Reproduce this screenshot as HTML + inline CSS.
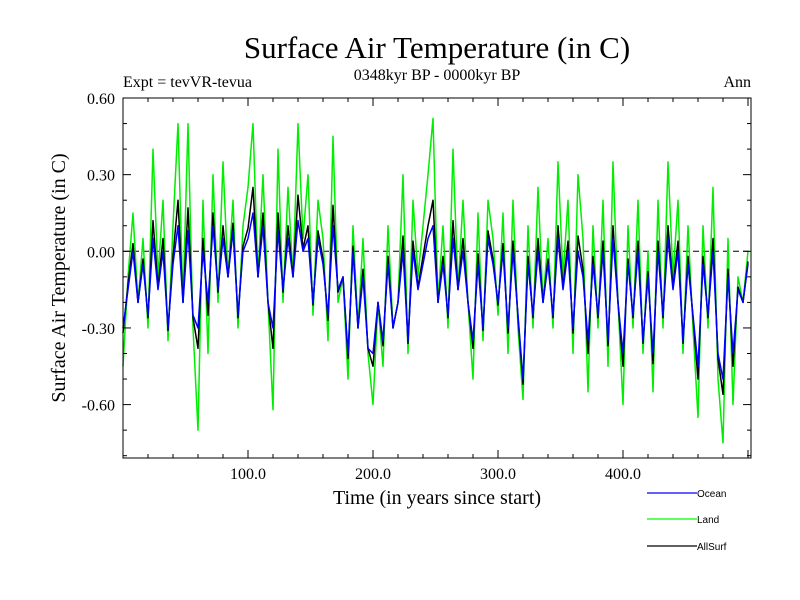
<!DOCTYPE html>
<html><head><meta charset="utf-8"><style>
body{margin:0;background:#fff}
svg{display:block}
text{font-family:"Liberation Serif",serif;fill:#000}
</style></head><body>
<svg id="chart" width="800" height="600" xmlns="http://www.w3.org/2000/svg">
<text x="437" y="58" font-size="31" text-anchor="middle">Surface Air Temperature (in C)</text>
<text x="437" y="80" font-size="16" text-anchor="middle">0348kyr BP - 0000kyr BP</text>
<text x="123" y="87" font-size="16">Expt = tevVR-tevua</text>
<text x="751" y="87" font-size="16" text-anchor="end">Ann</text>
<text transform="translate(65,278) rotate(-90)" font-size="20" text-anchor="middle">Surface Air Temperature (in C)</text>
<text x="437" y="504" font-size="20" text-anchor="middle">Time (in years since start)</text>
<g id="plot"></g>
<g>
<line x1="647" y1="493" x2="697" y2="493" stroke="#0000ff" stroke-width="1.3"/>
<text x="697" y="497" font-size="10" style="font-family:'Liberation Sans',sans-serif">Ocean</text>
<line x1="647" y1="519" x2="697" y2="519" stroke="#00ff00" stroke-width="1.3"/>
<text x="697" y="523" font-size="10" style="font-family:'Liberation Sans',sans-serif">Land</text>
<line x1="647" y1="546" x2="697" y2="546" stroke="#000" stroke-width="1.3"/>
<text x="697" y="550" font-size="10" style="font-family:'Liberation Sans',sans-serif">AllSurf</text>
</g>
</svg>
<script>
const step = 4;
const land = [-0.45,-0.1,0.15,-0.2,0.05,-0.3,0.4,-0.1,0.2,-0.35,0.1,0.5,-0.2,0.5,-0.3,-0.7,0.2,-0.4,0.3,-0.2,0.35,-0.1,0.2,-0.3,0.1,0.25,0.5,-0.1,0.3,-0.2,-0.62,0.4,-0.2,0.25,-0.1,0.5,0.05,0.3,-0.25,0.2,0.05,-0.35,0.45,-0.2,-0.1,-0.5,0.1,-0.3,0.05,-0.4,-0.6,-0.2,-0.45,0.1,-0.3,-0.2,0.3,-0.4,0.2,-0.1,0.1,0.3,0.52,-0.2,0.1,-0.3,0.4,-0.15,0.2,-0.2,-0.5,0.15,-0.35,0.2,0.05,-0.25,0.15,-0.4,0.2,-0.3,-0.58,0.1,-0.3,0.25,-0.2,0.05,-0.3,0.35,-0.1,0.2,-0.4,0.3,0.05,-0.55,0.1,-0.3,0.2,-0.45,0.35,-0.2,-0.6,0.1,-0.3,0.2,-0.4,0.0,-0.55,0.2,-0.3,0.35,-0.1,0.2,-0.4,0.1,-0.3,-0.65,0.1,-0.3,0.25,-0.5,-0.75,0.05,-0.6,-0.1,-0.2,0.0];
const ocean = [-0.3,-0.15,0.0,-0.2,-0.05,-0.25,0.05,-0.15,0.0,-0.3,-0.05,0.1,-0.2,0.08,-0.25,-0.3,0.0,-0.2,0.1,-0.15,0.05,-0.1,0.08,-0.25,0.0,0.05,0.15,-0.1,0.1,-0.2,-0.3,0.08,-0.15,0.05,-0.1,0.12,0.0,0.05,-0.2,0.05,-0.05,-0.25,0.1,-0.15,-0.1,-0.4,0.0,-0.3,-0.1,-0.38,-0.4,-0.2,-0.35,-0.05,-0.3,-0.2,0.0,-0.35,0.0,-0.15,-0.05,0.05,0.1,-0.2,-0.05,-0.25,0.05,-0.15,0.0,-0.2,-0.35,-0.05,-0.3,0.05,-0.05,-0.2,0.0,-0.3,0.0,-0.25,-0.5,-0.05,-0.25,0.0,-0.2,-0.05,-0.25,0.05,-0.15,0.0,-0.3,0.0,-0.1,-0.35,-0.05,-0.25,0.0,-0.35,0.05,-0.2,-0.4,-0.05,-0.25,0.0,-0.35,-0.1,-0.4,0.0,-0.25,0.05,-0.15,0.0,-0.35,-0.05,-0.25,-0.45,-0.05,-0.25,0.0,-0.4,-0.5,-0.1,-0.4,-0.15,-0.2,-0.05];
const allsurf = [-0.32,-0.13,0.03,-0.2,-0.03,-0.26,0.12,-0.14,0.05,-0.31,-0.02,0.2,-0.2,0.17,-0.26,-0.38,0.05,-0.25,0.15,-0.16,0.1,-0.1,0.11,-0.26,0.02,0.09,0.25,-0.1,0.15,-0.2,-0.38,0.15,-0.16,0.1,-0.1,0.22,0.01,0.1,-0.21,0.08,-0.03,-0.27,0.18,-0.16,-0.1,-0.42,0.02,-0.3,-0.07,-0.38,-0.45,-0.2,-0.37,-0.02,-0.3,-0.2,0.06,-0.36,0.04,-0.14,-0.02,0.1,0.2,-0.2,-0.02,-0.26,0.12,-0.15,0.05,-0.2,-0.38,-0.01,-0.31,0.08,-0.03,-0.21,0.03,-0.32,0.04,-0.26,-0.52,-0.02,-0.26,0.05,-0.2,-0.03,-0.26,0.1,-0.14,0.04,-0.32,0.06,-0.07,-0.4,-0.02,-0.26,0.04,-0.37,0.1,-0.2,-0.45,-0.03,-0.26,0.04,-0.36,-0.08,-0.44,0.04,-0.26,0.1,-0.14,0.04,-0.36,-0.02,-0.26,-0.5,-0.02,-0.26,0.05,-0.42,-0.56,-0.07,-0.45,-0.14,-0.2,-0.04];
const xTicks = [100,200,300,400];
const xTickLabels = ["100.0","200.0","300.0","400.0"];
const yTicks = [0.6,0.3,0,-0.3,-0.6];
const yTickLabels = ["0.60","0.30","0.00","-0.30","-0.60"];

const L=123,R=751,T=98,B=458, xMin=0,xMax=502.4, yMax=0.6, yMin=-0.809;
const sx=v=>L+(v-xMin)/(xMax-xMin)*(R-L);
const sy=v=>T+(yMax-v)/(yMax-yMin)*(B-T);
const NS="http://www.w3.org/2000/svg";
const g=document.getElementById('plot');
function mk(tag,attrs){const e=document.createElementNS(NS,tag);for(const k in attrs)e.setAttribute(k,attrs[k]);g.appendChild(e);return e;}

const zl=mk('line',{x1:L,x2:R,y1:sy(0),y2:sy(0),stroke:'#000','stroke-width':1,'stroke-dasharray':'6,4'});



function series(vals,color,name){
  const pts=vals.map((v,i)=>sx(i*step).toFixed(1)+','+sy(v).toFixed(1)).join(' ');
  const p=mk('polyline',{points:pts,fill:'none',stroke:color,'stroke-width':1.5,'stroke-linejoin':'round'});
  
  
}
series(land,'#00ee00','land-series');
series(allsurf,'#000000','allsurf-series');
series(ocean,'#0000ff','ocean-series');

const fr=mk('rect',{x:L,y:T,width:R-L,height:B-T,fill:'none',stroke:'#000','stroke-width':1});



for(let v=20;v<xMax;v+=20){
  const major=v%100===0, len=major?8:4;
  const a=mk('line',{x1:sx(v),x2:sx(v),y1:B,y2:B-len,stroke:'#000'});
  
  
  const b=mk('line',{x1:sx(v),x2:sx(v),y1:T,y2:T+len,stroke:'#000'});
  
  
}
xTicks.forEach((v,i)=>{
  const t=mk('text',{x:sx(v),y:B+21,'font-size':16,'text-anchor':'middle'});
  t.textContent=xTickLabels[i];
  
  
});
for(let k=-8;k<=6;k++){
  const v=k/10, major=(k%3===0), len=major?8:4;
  const a=mk('line',{x1:L,x2:L+len,y1:sy(v),y2:sy(v),stroke:'#000'});
  
  
  const b=mk('line',{x1:R,x2:R-len,y1:sy(v),y2:sy(v),stroke:'#000'});
  
  
}
yTicks.forEach((v,i)=>{
  const t=mk('text',{x:L-8,y:sy(v)+6,'font-size':16,'text-anchor':'end'});
  t.textContent=yTickLabels[i];
  
  
});
</script>
</body></html>
